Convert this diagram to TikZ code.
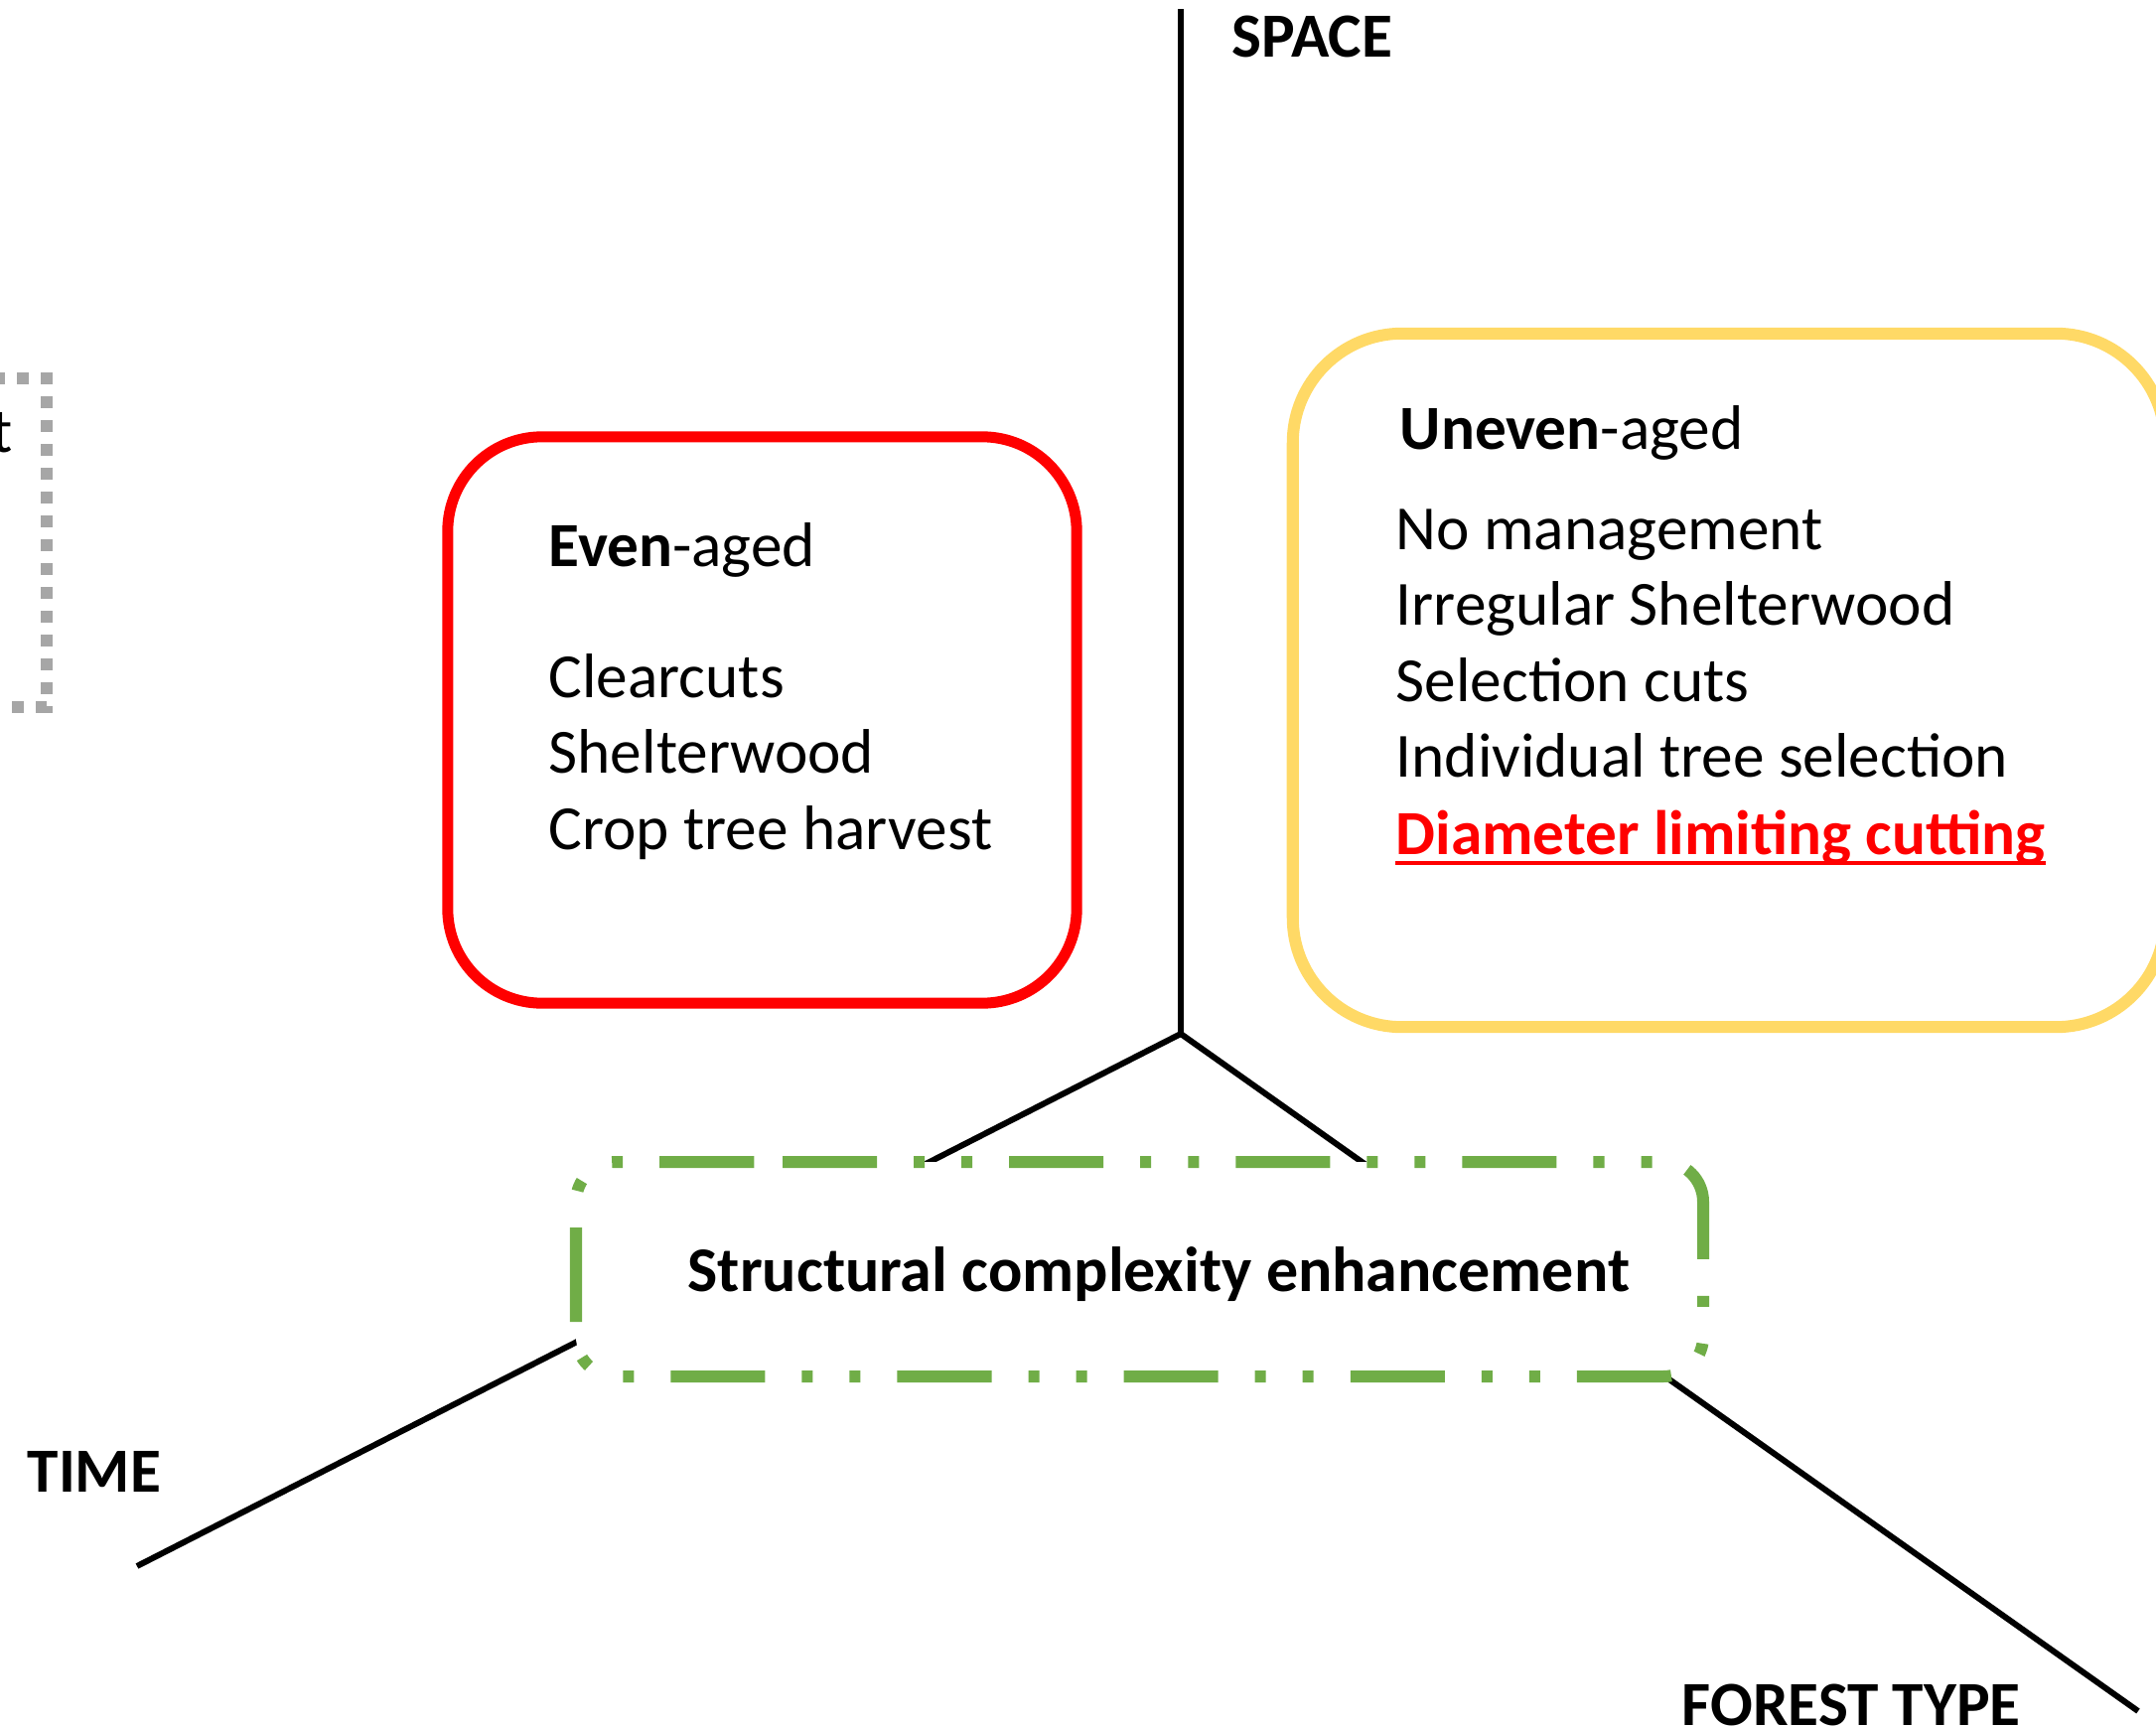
\documentclass[tikz,border=0pt]{standalone}
\usepackage{fontspec}
\setmainfont{Carlito}
\definecolor{boxred}{HTML}{FF0000}
\definecolor{boxyellow}{HTML}{FFD966}
\definecolor{boxgreen}{HTML}{70AD47}
\definecolor{boxgray}{HTML}{A6A6A6}
\begin{document}
\begin{tikzpicture}[x=0.01cm,y=-0.01cm,
  axisline/.style={line width=0.06cm, black},
  axislabel/.style={font=\fontsize{18}{22}\selectfont\bfseries, inner sep=0, anchor=base west},
  bodytext/.style={font=\fontsize{18}{21.6}\selectfont, inner sep=0, anchor=base west},
  sumtext/.style={font=\fontsize{18.2}{22}\selectfont\bfseries, inner sep=0, anchor=base west},
  redbox/.style={draw=boxred, line width=0.11cm, rounded corners=0.95cm, inner sep=0},
  yellowbox/.style={draw=boxyellow, line width=0.12cm, rounded corners=1.1cm, inner sep=0},
  greenline/.style={draw=boxgreen, line width=0.12cm, fill=white,
    dash pattern=on 0.95cm off 0.37cm on 0.11cm off 0.37cm on 0.11cm off 0.37cm},
  grayline/.style={draw=boxgray, line width=0.12cm, dash pattern=on 0.12cm off 0.12cm, dash phase=0.19cm}
]
\useasboundingbox (0,0) rectangle (2171,1739);

% axes
\coordinate (o) at (1189,1041);
\coordinate (spaceEnd) at (1189,9);
\coordinate (timeEnd) at (138,1577);
\coordinate (forestEnd) at (2153,1723);
\draw[axisline] (o) -- (spaceEnd);
\draw[axisline] (o) -- (timeEnd);
\draw[axisline] (o) -- (forestEnd);

\node[axislabel] (space) at (1240,57) {SPACE};
\node[axislabel] (time) at (27,1502) {TIME};
\node[axislabel] (forest) at (1693,1737) {FOREST TYPE};

% partially visible gray box
\draw[grayline] (-300,381) -- (47,381) -- (47,712) -- (-300,712);
\node[bodytext, anchor=base east] (tcut) at (13,455) {t};

% even-aged box
\node[redbox, minimum width=6.33cm, minimum height=5.70cm] (evenbox) at (767.5,725) {};
\node[bodytext] (eventitle) at (552,570) {\textbf{Even}-aged};
\node[bodytext] (e1) at (552,702) {Clearcuts};
\node[bodytext] (e2) at (552,778) {Shelterwood};
\node[bodytext] (e3) at (552,855) {Crop tree harvest};

% uneven-aged box
\node[yellowbox, minimum width=8.78cm, minimum height=6.98cm] (unevenbox) at (1741,685) {};
\node[bodytext] (uneventitle) at (1409,452) {\textbf{Uneven}-aged};
\node[bodytext] (u1) at (1405,553) {No management};
\node[bodytext] (u2) at (1405,629) {Irregular Shelterwood};
\node[bodytext] (u3) at (1405,706) {Selection cuts};
\node[bodytext] (u4) at (1405,782) {Individual tree selection};
\node[bodytext, text=boxred, font=\fontsize{18}{21.6}\selectfont\bfseries] (u5) at (1405,860) {Diameter limiting cutting};
\draw[boxred, line width=0.045cm] ([yshift=-0.09cm]u5.base west) -- ([yshift=-0.09cm]u5.base east);

% structural complexity box
\draw[greenline, rounded corners=0.4cm] (748,1170) -- (1715,1170) -- (1715,1386) -- (580,1386) -- (580,1170) -- cycle;
\node[sumtext] (sce) at (692,1300) {Structural complexity enhancement};
\end{tikzpicture}
\end{document}
